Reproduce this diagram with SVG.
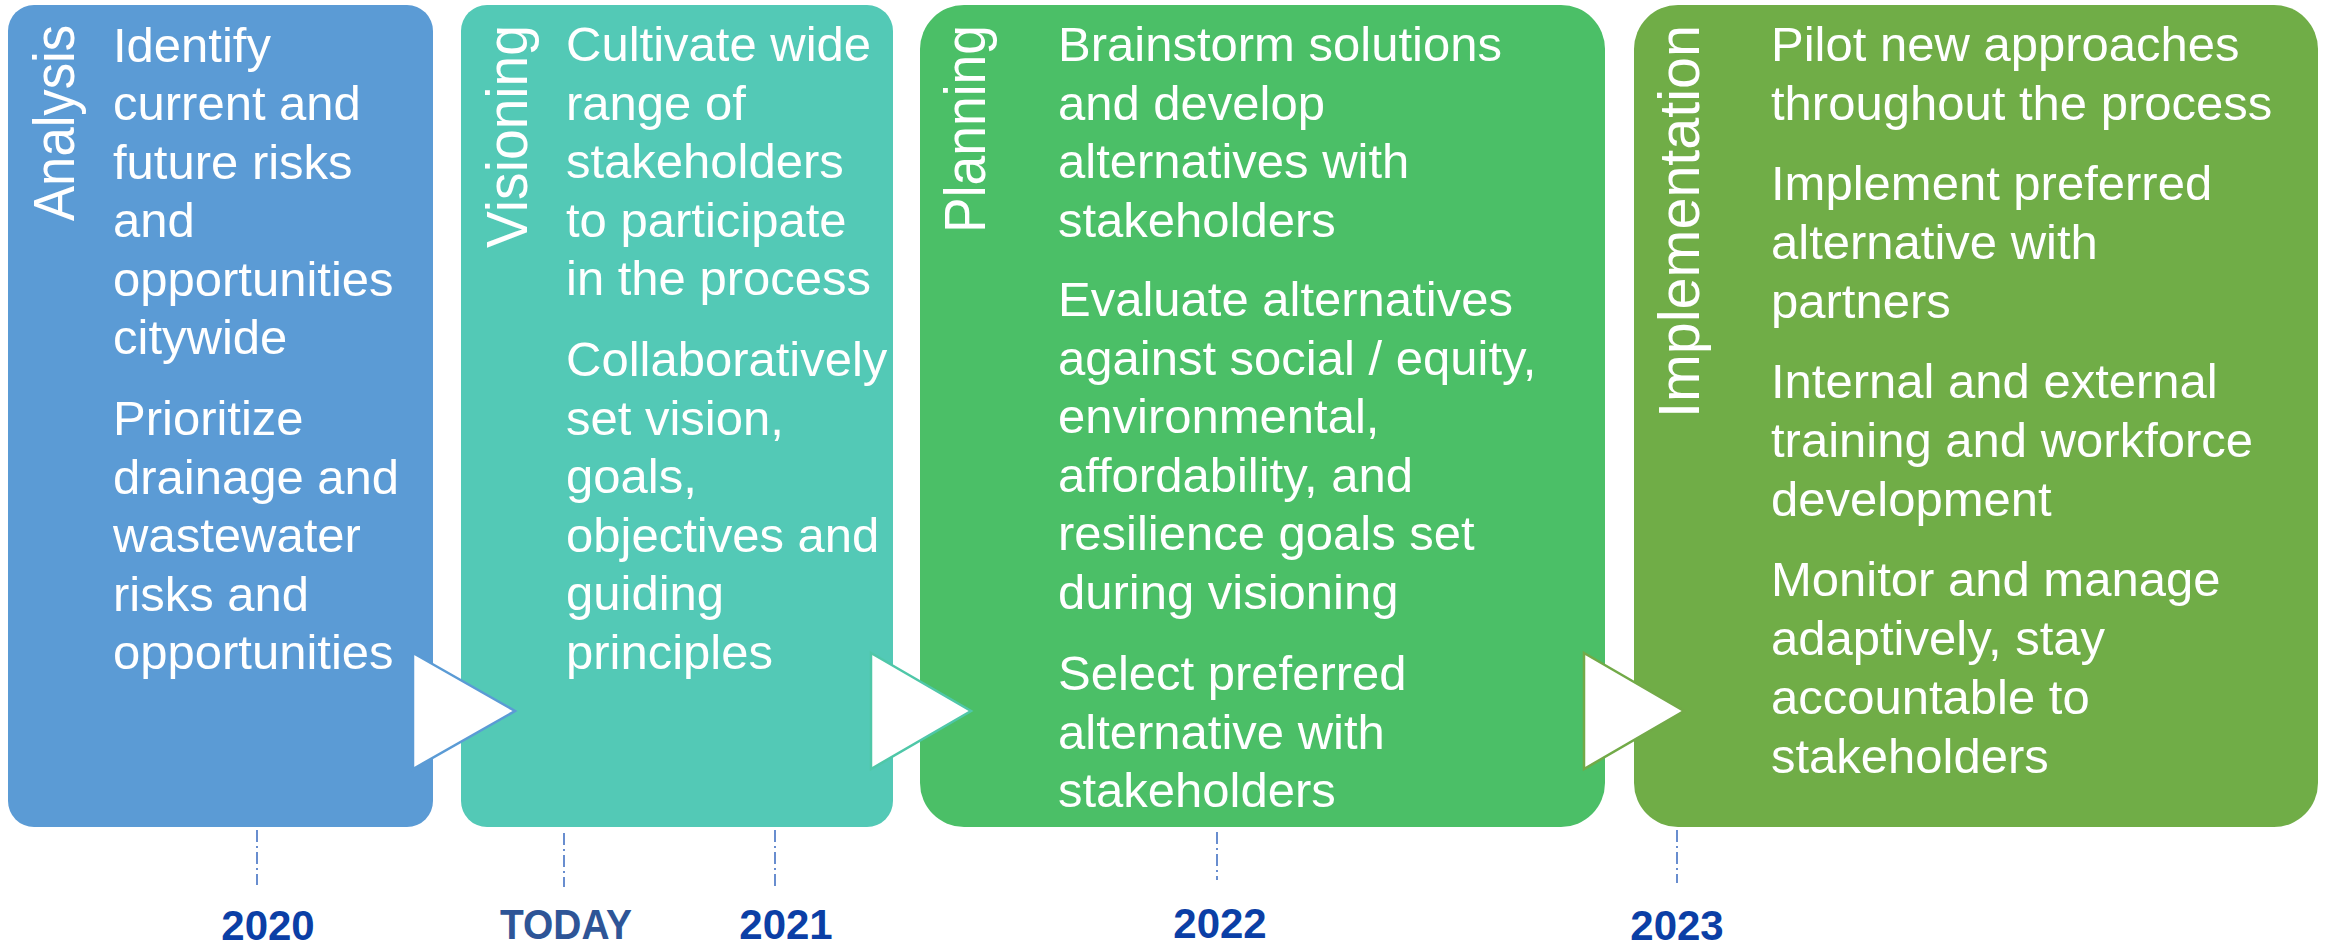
<svg xmlns="http://www.w3.org/2000/svg" width="2333" height="949" viewBox="0 0 2333 949">
<style>
.body{font-family:"Liberation Sans",Arial,sans-serif;font-size:49px;fill:#FFFFFF}
.phase{font-family:"Liberation Sans",Arial,sans-serif;font-size:57px;fill:#FFFFFF}
.year{font-family:"Liberation Sans",Arial,sans-serif;font-size:42px;font-weight:bold;fill:#0B3FA6;text-anchor:middle}
.today{fill:#2E5597}
.tick{stroke:#4472C4;stroke-width:1.6;stroke-dasharray:12 4 2 4;fill:none}
.chev{fill:#FFFFFF;stroke-width:2.5;stroke-linejoin:miter}
</style>
<rect width="2333" height="949" fill="#FFFFFF"/>

<g id="analysis">
<rect x="8" y="5" width="425" height="822" rx="26" ry="26" fill="#5B9BD5"/>
<text class="phase" transform="translate(74,0) rotate(-90)" x="-221" y="0" textLength="196" lengthAdjust="spacingAndGlyphs">Analysis</text>
<text class="body" x="113" y="62">Identify</text>
<text class="body" x="113" y="120">current and</text>
<text class="body" x="113" y="178.5">future risks</text>
<text class="body" x="113" y="237">and</text>
<text class="body" x="113" y="295.5">opportunities</text>
<text class="body" x="113" y="354">citywide</text>
<text class="body" x="113" y="435">Prioritize</text>
<text class="body" x="113" y="493.5">drainage and</text>
<text class="body" x="113" y="552">wastewater</text>
<text class="body" x="113" y="610.5">risks and</text>
<text class="body" x="113" y="669">opportunities</text>
</g>

<g id="visioning">
<rect x="461" y="5" width="432" height="822" rx="26" ry="26" fill="#53C9B6"/>
<text class="phase" transform="translate(527,0) rotate(-90)" x="-248" y="0" textLength="223" lengthAdjust="spacingAndGlyphs">Visioning</text>
<text class="body" x="566" y="61">Cultivate wide</text>
<text class="body" x="566" y="119.5">range of</text>
<text class="body" x="566" y="178">stakeholders</text>
<text class="body" x="566" y="236.5">to participate</text>
<text class="body" x="566" y="295">in the process</text>
<text class="body" x="566" y="376">Collaboratively</text>
<text class="body" x="566" y="434.5">set vision,</text>
<text class="body" x="566" y="493">goals,</text>
<text class="body" x="566" y="551.5">objectives and</text>
<text class="body" x="566" y="610">guiding</text>
<text class="body" x="566" y="668.5">principles</text>
</g>

<g id="planning">
<rect x="920" y="5" width="685" height="822" rx="44" ry="44" fill="#4BBF67"/>
<text class="phase" transform="translate(985,0) rotate(-90)" x="-233" y="0" textLength="208" lengthAdjust="spacingAndGlyphs">Planning</text>
<text class="body" x="1058" y="61">Brainstorm solutions</text>
<text class="body" x="1058" y="119.5">and develop</text>
<text class="body" x="1058" y="178">alternatives with</text>
<text class="body" x="1058" y="236.5">stakeholders</text>
<text class="body" x="1058" y="316">Evaluate alternatives</text>
<text class="body" x="1058" y="374.5">against social / equity,</text>
<text class="body" x="1058" y="433">environmental,</text>
<text class="body" x="1058" y="491.5">affordability, and</text>
<text class="body" x="1058" y="550">resilience goals set</text>
<text class="body" x="1058" y="608.5">during visioning</text>
<text class="body" x="1058" y="690">Select preferred</text>
<text class="body" x="1058" y="748.5">alternative with</text>
<text class="body" x="1058" y="807">stakeholders</text>
</g>

<g id="implementation">
<rect x="1634" y="5" width="684" height="822" rx="44" ry="44" fill="#70AD47"/>
<text class="phase" transform="translate(1699,0) rotate(-90)" x="-418" y="0" textLength="393" lengthAdjust="spacingAndGlyphs">Implementation</text>
<text class="body" x="1771" y="61">Pilot new approaches</text>
<text class="body" x="1771" y="120">throughout the process</text>
<text class="body" x="1771" y="200">Implement preferred</text>
<text class="body" x="1771" y="259">alternative with</text>
<text class="body" x="1771" y="318">partners</text>
<text class="body" x="1771" y="398">Internal and external</text>
<text class="body" x="1771" y="457">training and workforce</text>
<text class="body" x="1771" y="516">development</text>
<text class="body" x="1771" y="596">Monitor and manage</text>
<text class="body" x="1771" y="655">adaptively, stay</text>
<text class="body" x="1771" y="714">accountable to</text>
<text class="body" x="1771" y="773">stakeholders</text>
</g>

<g id="connectors">
<polygon class="chev" points="413,653 515,711 413,769" stroke="#5B9BD5"/>
<polygon class="chev" points="871,653 971,711 871,769" stroke="#4FC7A8"/>
<polygon class="chev" points="1584,653 1684,711 1584,769" stroke="#72AA48"/>
</g>

<g id="timeline">
<line class="tick" x1="257" y1="830" x2="257" y2="885"/>
<line class="tick" x1="564" y1="833" x2="564" y2="887"/>
<line class="tick" x1="775" y1="830" x2="775" y2="887"/>
<line class="tick" x1="1217" y1="832" x2="1217" y2="880"/>
<line class="tick" x1="1677" y1="830" x2="1677" y2="883"/>
<text class="year" x="268" y="940">2020</text>
<text class="year today" x="566" y="939" textLength="132" lengthAdjust="spacingAndGlyphs">TODAY</text>
<text class="year" x="786" y="939">2021</text>
<text class="year" x="1220" y="938">2022</text>
<text class="year" x="1677" y="940">2023</text>
</g>
</svg>
